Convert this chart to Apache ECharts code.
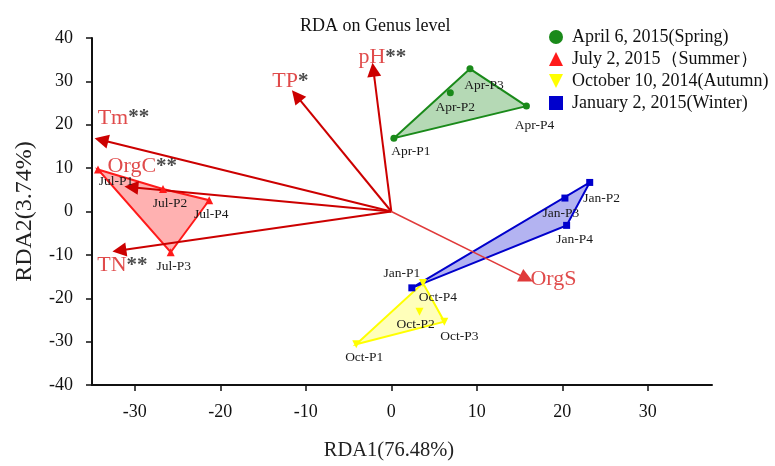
<!DOCTYPE html>
<html>
<head>
<meta charset="utf-8">
<title>RDA on Genus level</title>
<script src="https://cdn.jsdelivr.net/npm/echarts@6/dist/echarts.min.js"></script>
<style>
  html, body { margin: 0; padding: 0; background: #fff; }
  #chart { width: 775px; height: 466px; }
</style>
</head>
<body>
<div id="chart"></div>
<script>
var FONT = "'Liberation Serif', 'Times New Roman', serif";

// seasons (legend names)
var seasonNames = ['April 6, 2015(Spring)', 'July 2, 2015（Summer）', 'October 10, 2014(Autumn)', 'January 2, 2015(Winter)'];

// sample scores (RDA1, RDA2)
var aprLabels = ['Apr-P1', 'Apr-P2', 'Apr-P3', 'Apr-P4'];
var aprX = [0.3, 6.9, 9.2, 15.8];
var aprY = [16.9, 27.4, 32.9, 24.3];

var julLabels = ['Jul-P1', 'Jul-P2', 'Jul-P3', 'Jul-P4'];
var julX = [-34.3, -26.7, -25.8, -21.3];
var julY = [9.7, 5.2, -9.4, 2.6];

var octLabels = ['Oct-P1', 'Oct-P2', 'Oct-P3', 'Oct-P4'];
var octX = [-4.1, 3.3, 6.2, 3.7];
var octY = [-30.6, -23.1, -25.4, -16.5];

var janLabels = ['Jan-P1', 'Jan-P2', 'Jan-P3', 'Jan-P4'];
var janX = [2.4, 23.2, 20.3, 20.5];
var janY = [-17.6, 6.7, 3.1, -3.2];

// environmental vectors
var envNames = ['Tm', 'OrgC', 'TP', 'pH', 'TN', 'OrgS'];
var envStars = ['**', '**', '*', '**', '**', ''];
var envX = [-33.9, -30.4, -11.1, -2.1, -31.8, 15.8];
var envY = [16.5, 5.6, 26.7, 32.7, -9.0, -15.4];

// x axis tick labels
var xTicks = [-30, -20, -10, 0, 10, 20, 30];

// ---- styles ----
var seasonStyle = [
  { color: '#1a8a1a', fill: 'rgba(26,138,26,0.32)', symbol: 'circle', size: 7, hull: [0, 2, 3] },
  { color: '#ff1a1a', fill: 'rgba(255,40,40,0.36)', symbol: 'triangle', size: 8, hull: [0, 1, 3, 2] },
  { color: '#ffff00', fill: 'rgba(255,255,40,0.32)', symbol: 'path://M0,0L10,0L5,10Z', size: 8, hull: [0, 3, 2] },
  { color: '#0000cc', fill: 'rgba(20,20,210,0.32)', symbol: 'rect', size: 7, hull: [0, 1, 3] }
];
var ptOffsets = [
  [[17, 13], [5, 15], [14, 17], [8, 19]],
  [[18, 12], [7, 15], [3, 14], [2, 14]],
  [[8, 13], [-4, 13], [15, 15], [15, 14]],
  [[-10, -14], [12, 16], [-4, 15], [8, 14]]
];
var envOffsets = [[22, -22], [11, -21], [-6, -14], [9, -12], [3, 15], [27, 1]];

function pts(xs, ys) {
  var out = [];
  for (var i = 0; i < xs.length; i++) out.push([xs[i], ys[i]]);
  return out;
}

var seasonData = [
  { x: aprX, y: aprY, labels: aprLabels },
  { x: julX, y: julY, labels: julLabels },
  { x: octX, y: octY, labels: octLabels },
  { x: janX, y: janY, labels: janLabels }
];

var series = [];

// hull polygons
seasonData.forEach(function (s, k) {
  var st = seasonStyle[k];
  var hullPts = st.hull.map(function (i) { return [s.x[i], s.y[i]]; });
  series.push({
    type: 'custom',
    name: seasonNames[k] + '_hull',
    z: 2,
    silent: true,
    data: [0],
    renderItem: function (params, api) {
      var p = hullPts.map(function (d) { return api.coord(d); });
      return {
        type: 'polygon',
        shape: { points: p },
        style: { fill: st.fill, stroke: st.color, lineWidth: 2 }
      };
    }
  });
});

// vectors
series.push({
  type: 'lines',
  coordinateSystem: 'cartesian2d',
  z: 4,
  symbol: ['none', 'triangle'],
  symbolSize: 14,
  silent: true,
  data: envNames.map(function (n, i) {
    var last = n === 'OrgS';
    return {
      coords: [[0, 0], [envX[i], envY[i]]],
      lineStyle: { color: last ? '#e03a3a' : '#cc0000', width: last ? 1.5 : 2, opacity: 1 }
    };
  })
});

// vector labels
series.push({
  type: 'scatter',
  z: 6,
  symbolSize: 0,
  silent: true,
  data: envNames.map(function (n, i) {
    return {
      value: [envX[i], envY[i]],
      label: {
        show: true,
        position: 'inside',
        offset: envOffsets[i],
        formatter: '{a|' + n + '}' + (envStars[i] ? '{b|' + envStars[i] + '}' : ''),
        rich: {
          a: { fontFamily: FONT, fontSize: 22, color: '#d81e1e' },
          b: { fontFamily: FONT, fontSize: 21, color: '#1a1a1a', fontWeight: 'bold' }
        }
      }
    };
  })
});

// sample points
seasonData.forEach(function (s, k) {
  var st = seasonStyle[k];
  series.push({
    type: 'scatter',
    name: seasonNames[k],
    z: 5,
    symbol: st.symbol,
    symbolSize: st.size,
    itemStyle: { color: st.color, opacity: 1 },
    data: pts(s.x, s.y).map(function (d, i) {
      return {
        value: d,
        label: {
          show: true,
          position: 'inside',
          offset: ptOffsets[k][i],
          formatter: s.labels[i],
          fontFamily: FONT,
          fontSize: 13.5,
          color: '#1a1a1a'
        }
      };
    })
  });
});

var chart = echarts.init(document.getElementById('chart'), null, { renderer: 'canvas' });
chart.setOption({
  backgroundColor: '#fff',
  animation: false,
  title: {
    text: 'RDA on Genus level',
    left: 300,
    top: 17,
    padding: 0,
    textStyle: { fontFamily: FONT, fontSize: 18, fontWeight: 'normal', color: '#111' }
  },
  legend: {
    orient: 'vertical',
    left: 549,
    top: 28,
    padding: 0,
    itemWidth: 14,
    itemHeight: 14,
    itemGap: 4,
    textStyle: { fontFamily: FONT, fontSize: 18, color: '#111', padding: [0, 0, 0, 4] },
    data: seasonNames.map(function (n, k) {
      return { name: n, icon: seasonStyle[k].symbol };
    })
  },
  grid: { left: 92, right: 63, top: 38, bottom: 72, containLabel: false },
  xAxis: {
    type: 'value',
    min: -35,
    max: 37.5,
    name: 'RDA1(76.48%)',
    nameLocation: 'middle',
    nameGap: 55,
    nameTextStyle: { fontFamily: FONT, fontSize: 20.5, color: '#222', padding: [0, 26, 0, 0] },
    splitLine: { show: false },
    axisLine: { show: true, onZero: false, lineStyle: { color: '#111', width: 2 } },
    axisTick: { show: true, length: 6, lineStyle: { color: '#111', width: 1.5 }, customValues: xTicks },
    axisLabel: { fontFamily: FONT, fontSize: 18, color: '#111', margin: 18, customValues: xTicks }
  },
  yAxis: {
    type: 'value',
    min: -40,
    max: 40,
    interval: 10,
    name: 'RDA2(3.74%)',
    nameLocation: 'middle',
    nameGap: 55,
    nameTextStyle: { fontFamily: FONT, fontSize: 24, color: '#222' },
    splitLine: { show: false },
    axisLine: { show: true, onZero: false, lineStyle: { color: '#111', width: 2 } },
    axisTick: { show: true, length: 6, lineStyle: { color: '#111', width: 1.5 } },
    axisLabel: { fontFamily: FONT, fontSize: 18, color: '#111', margin: 19 }
  },
  series: series
});
</script>
</body>
</html>
